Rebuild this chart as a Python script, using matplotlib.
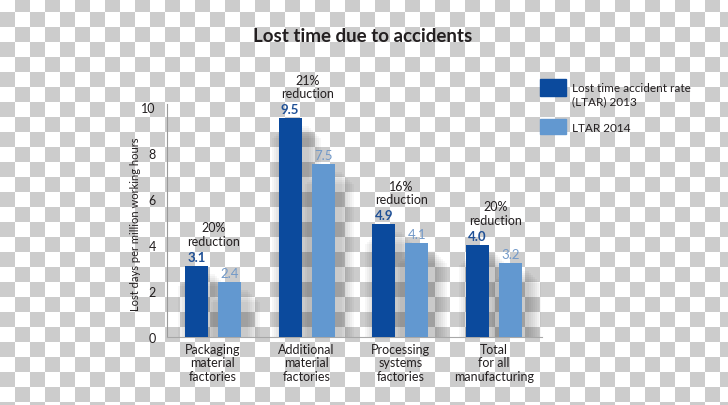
import matplotlib.pyplot as plt
import numpy as np
from matplotlib.patches import Rectangle

plt.rcParams["font.family"] = ["Lato", "DejaVu Sans"]

# --- data ---
categories = ["Packaging\nmaterial\nfactories", "Additional\nmaterial\nfactories",
              "Processing\nsystems\nfactories", "Total\nfor all\nmanufacturing"]
ltar_2013 = [3.1, 9.5, 4.9, 4.0]
ltar_2014 = [2.4, 7.5, 4.1, 3.2]
reductions = ["20%", "21%", "16%", "20%"]
yticks = [0, 2, 4, 6, 8, 10]

DARK = "#0b4a9d"
LIGHT = "#6298d0"
TXT = "#231f20"

W, H = 728, 406
fig = plt.figure(figsize=(W / 100, H / 100), dpi=100)

# checkerboard "transparent" background
yy, xx = np.mgrid[0:H, 0:W]
checker = (((yy + 2) // 15 + xx // 15) % 2) > 0
img = np.where(checker[..., None], 0.80, 1.0) * np.ones(3)
bg = fig.add_axes([0, 0, 1, 1], zorder=-10)
bg.imshow(img, aspect="auto", interpolation="nearest")
bg.axis("off")

# --- main axes ---
ax = fig.add_axes([167 / W, 68 / H, 375 / W, 233 / H])
ax.patch.set_alpha(0)

x = np.arange(len(categories))
px = 1 / 93.67            # one pixel in x data units
off = 16.5 * px
w = 23 * px
v13 = np.array(ltar_2013)
v14 = np.array(ltar_2014)

# soft drop shadows
for k in range(7):
    spread = (1 + 2 * k) * px
    drop = (8 + 2 * k) / 23
    for xs, vals in ((x - off, v13), (x + off, v14)):
        ax.bar(xs + 6 * px, np.clip(vals - drop, 0, None), width=w + 2 * spread,
               color="black", alpha=0.03, linewidth=0, zorder=1)

ax.bar(x - off, v13, width=w, color=DARK, zorder=3)
ax.bar(x + off, v14, width=w, color=LIGHT, zorder=3)

for xi, a, b, r in zip(x, v13, v14, reductions):
    ax.annotate(f"{a:.1f}", (xi - off, a), xytext=(0, 3), textcoords="offset pixels",
                ha="center", va="bottom", fontsize=9.5, fontweight="bold", color="#1f5096")
    ax.annotate(f"{b:.1f}", (xi + off, b), xytext=(0, 3), textcoords="offset pixels",
                ha="center", va="bottom", fontsize=9.5, color="#7299c8")
    ax.annotate(f"{r}\nreduction", (xi + 1 * px, a), xytext=(0, 19), textcoords="offset pixels",
                ha="center", va="bottom", fontsize=9, color=TXT, linespacing=1.15)

ax.set_xlim(-0.49, 3.51)
ax.set_ylim(0, 10.13)
ax.set_yticks(yticks)
ax.set_xticks(x)
ax.set_xticklabels(categories, fontsize=9, color=TXT, linespacing=1.15)
ax.tick_params(axis="both", length=0, labelsize=9, labelcolor=TXT)
ax.tick_params(axis="y", pad=8)
ax.tick_params(axis="x", pad=4)

ax.set_ylabel("Lost days per million working hours", fontsize=8, color=TXT, va="center")
ax.yaxis.set_label_coords(-0.085, 0.49)

for s in ("top", "right"):
    ax.spines[s].set_visible(False)
ax.spines["left"].set_color("#9a9a9a")
ax.spines["bottom"].set_color("#a8a8a8")
ax.spines["left"].set_linewidth(0.8)
ax.spines["bottom"].set_linewidth(0.8)

# title
fig.text(363 / W, 1 - 36 / H, "Lost time due to accidents", ha="center", va="center",
         fontsize=13.5, fontweight="bold", color=TXT)

# legend
fig.add_artist(Rectangle((540 / W, 1 - 97 / H), 26 / W, 17 / H, color=DARK,
                         transform=fig.transFigure))
fig.add_artist(Rectangle((540 / W, 1 - 135 / H), 26 / W, 15 / H, color=LIGHT,
                         transform=fig.transFigure))
fig.text(572 / W, 1 - 95.5 / H, "Lost time accident rate\n(LTAR) 2013", ha="left",
         va="center", fontsize=8.5, color=TXT, linespacing=1.25)
fig.text(572 / W, 1 - 128 / H, "LTAR 2014", ha="left", va="center", fontsize=8.5, color=TXT)

fig.savefig("out.png", dpi=100)
